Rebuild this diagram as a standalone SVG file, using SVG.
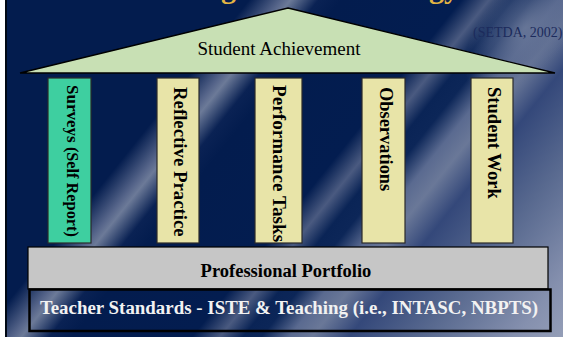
<svg xmlns="http://www.w3.org/2000/svg" width="563" height="337" viewBox="0 0 563 337">
<defs>
<linearGradient id="bg" gradientUnits="userSpaceOnUse" x1="0" y1="0" x2="563" y2="450">
<stop offset="0" stop-color="#031c4e"/>
<stop offset="0.27" stop-color="#031c4e"/>
<stop offset="0.305" stop-color="#56658a"/>
<stop offset="0.315" stop-color="#6c7a98"/>
<stop offset="0.345" stop-color="#0a2254"/>
<stop offset="0.37" stop-color="#031c4e"/>
<stop offset="0.5" stop-color="#031d50"/>
<stop offset="0.53" stop-color="#4a5a80"/>
<stop offset="0.555" stop-color="#0a2456"/>
<stop offset="0.575" stop-color="#0c2658"/>
<stop offset="0.605" stop-color="#5a6a90"/>
<stop offset="0.63" stop-color="#6a7898"/>
<stop offset="0.67" stop-color="#34487a"/>
<stop offset="0.75" stop-color="#58698f"/>
<stop offset="0.85" stop-color="#8590ae"/>
<stop offset="1" stop-color="#b0b8c8"/>
</linearGradient>
<radialGradient id="glow" cx="0.5" cy="0.5" r="0.5">
<stop offset="0" stop-color="#6e7c9c" stop-opacity="0.85"/>
<stop offset="0.6" stop-color="#5a6a90" stop-opacity="0.5"/>
<stop offset="1" stop-color="#5a6a90" stop-opacity="0"/>
</radialGradient>
<style>
.serif{font-family:"Liberation Serif","Times New Roman",serif}
.b{font-weight:bold}
.pillar{fill:#e8e4a8;stroke:#2a2a2a;stroke-width:1.2}
.ptxt{font-family:"Liberation Serif","Times New Roman",serif;font-weight:bold;fill:#000}
</style>
</defs>
<g id="background">
<rect x="0" y="0" width="563" height="337" fill="url(#bg)"/>
<ellipse cx="525" cy="28" rx="80" ry="42" fill="url(#glow)" transform="rotate(-50 525 28)"/>
<rect x="0" y="0" width="5" height="337" fill="#ffffff"/>
<rect x="5" y="0" width="2" height="337" fill="#000814"/>
</g>
<g id="title-fragment" class="serif b" fill="#e2b444" font-size="30">
<text x="221" y="-2">g</text>
<text x="429" y="-2">gy</text>
</g>
<g id="source">
<text x="473" y="37" class="serif" font-size="14" fill="#1c2b5c">(SETDA, 2002)</text>
</g>
<g id="roof">
<polygon points="288,8 555,73 20,73" fill="#c8e0b4" stroke="#000" stroke-width="1.3"/>
<text x="279" y="55" class="serif" font-size="19" text-anchor="middle" fill="#000">Student Achievement</text>
</g>
<g id="pillar-surveys">
<rect x="48" y="78" width="43" height="165" fill="#3ecfa0" stroke="#2a2a2a" stroke-width="1.2"/>
<text class="ptxt" transform="translate(67,85) rotate(90)" font-size="17">Surveys <tspan font-size="16.3">(Self Report)</tspan></text>
</g>
<g id="pillar-reflective">
<rect class="pillar" x="157" y="78" width="42" height="165"/>
<text class="ptxt" transform="translate(174,87) rotate(90)" font-size="18.8">Reflective Practice</text>
</g>
<g id="pillar-performance">
<rect class="pillar" x="255" y="78" width="47" height="165"/>
<text class="ptxt" transform="translate(273,85) rotate(90)" font-size="19.2">Performance Tasks</text>
</g>
<g id="pillar-observations">
<rect class="pillar" x="362" y="78" width="43" height="165"/>
<text class="ptxt" transform="translate(380,87) rotate(90)" font-size="18.4">Observations</text>
</g>
<g id="pillar-studentwork">
<rect class="pillar" x="471" y="78" width="42" height="165"/>
<text class="ptxt" transform="translate(488,87) rotate(90)" font-size="18.6">Student Work</text>
</g>
<g id="portfolio">
<rect x="28" y="247" width="520" height="42" fill="#c6c6c6" stroke="#000" stroke-width="1.2"/>
<text x="286" y="277" class="serif b" font-size="18.5" text-anchor="middle" fill="#000">Professional Portfolio</text>
</g>
<g id="standards">
<rect x="29.5" y="289.5" width="521" height="41.5" fill="none" stroke="#000" stroke-width="2.5"/>
<text x="289" y="314" class="serif b" font-size="18.9" text-anchor="middle" fill="#f2f2f2">Teacher Standards - ISTE &amp; Teaching (i.e., INTASC, NBPTS)</text>
</g>
</svg>
